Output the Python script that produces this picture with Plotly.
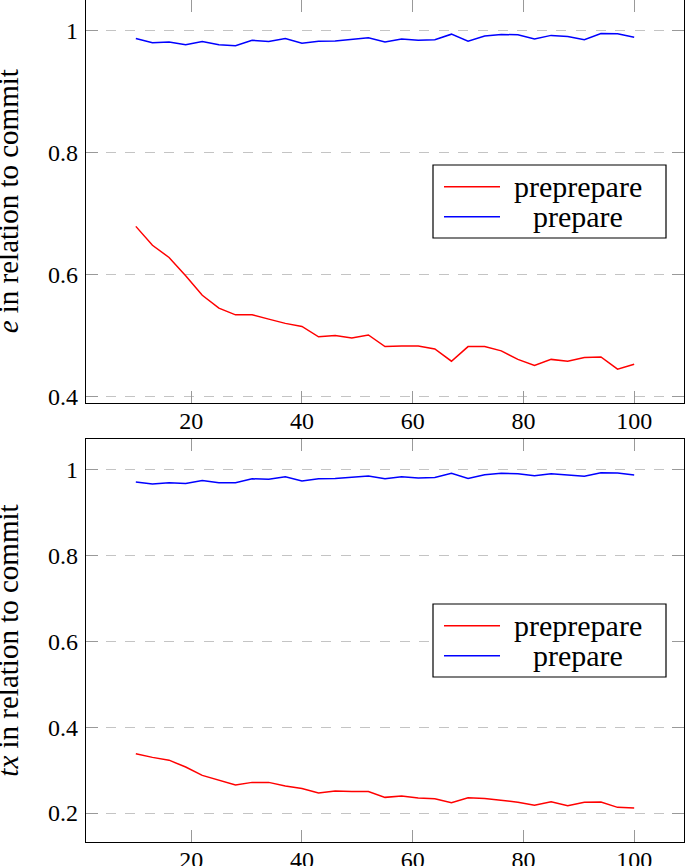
import plotly.graph_objects as go

x_vals = [10, 13, 16, 19, 22, 25, 28, 31, 34, 37, 40, 43, 46, 49, 52, 55,
          58, 61, 64, 67, 70, 73, 76, 79, 82, 85, 88, 91, 94, 97, 100]

e_preprepare = [0.679, 0.648, 0.628, 0.598, 0.566, 0.545, 0.534, 0.534, 0.527, 0.520,
                0.515, 0.498, 0.500, 0.496, 0.501, 0.482, 0.483, 0.483, 0.478, 0.458,
                0.482, 0.482, 0.475, 0.461, 0.451, 0.461, 0.458, 0.464, 0.465, 0.445, 0.453]
e_prepare = [0.987, 0.980, 0.981, 0.9765, 0.982, 0.9765, 0.975, 0.984, 0.982, 0.987,
             0.979, 0.9825, 0.983, 0.986, 0.988, 0.981, 0.986, 0.984, 0.985, 0.994,
             0.9825, 0.991, 0.9935, 0.993, 0.986, 0.992, 0.990, 0.985, 0.995, 0.9945, 0.989]

tx_preprepare = [0.338, 0.3295, 0.323, 0.307, 0.2876, 0.276, 0.265, 0.2713, 0.2713, 0.2628,
                 0.257, 0.2465, 0.251, 0.250, 0.250, 0.2364, 0.2395, 0.235, 0.2333, 0.224,
                 0.2357, 0.234, 0.2295, 0.225, 0.218, 0.2264, 0.217, 0.225, 0.2256, 0.2132, 0.2116]
tx_prepare = [0.9705, 0.966, 0.969, 0.967, 0.974, 0.969, 0.969, 0.978, 0.977, 0.983,
              0.973, 0.978, 0.979, 0.982, 0.9845, 0.978, 0.983, 0.980, 0.981, 0.991,
              0.979, 0.9876, 0.991, 0.990, 0.985, 0.990, 0.9876, 0.984, 0.992, 0.9915, 0.987]

x_ticks = [20, 40, 60, 80, 100]
y_ticks_top = [0.4, 0.6, 0.8, 1]
y_ticks_bottom = [0.2, 0.4, 0.6, 0.8, 1]
series_names = ["preprepare", "prepare"]
series_colors = ["#ff0000", "#0000ff"]
y_titles = ["<i>e</i> in relation to commit", "<i>tx</i> in relation to commit"]

FONT = "Liberation Serif, serif"

# ---- geometry (pixels) ----
W, H = 685, 866
ML, MR, MT, MB = 86, 1, 0, 24
PW = W - ML - MR
PH = H - MT - MB


def px_x(px):
    return (px - ML) / PW


def px_y(py):
    return 1 - (py - MT) / PH


top_dom = [px_y(402.7), 1.0]
bot_dom = [0.0, px_y(439.3)]

fig = go.Figure()
panels = [("x", "y", e_preprepare, e_prepare), ("x2", "y2", tx_preprepare, tx_prepare)]
for xa, ya, s_pre, s_prep in panels:
    for name, col, vals in zip(series_names, series_colors, [s_pre, s_prep]):
        fig.add_trace(go.Scatter(x=x_vals, y=vals, mode="lines", name=name,
                                 line=dict(color=col, width=1.5), xaxis=xa, yaxis=ya,
                                 showlegend=False))

common_x = dict(range=[1, 109], tickvals=x_ticks, ticks="inside", ticklen=12, tickcolor="#999999",
                tickwidth=1, showline=True, linecolor="black", linewidth=1.2, mirror="allticks",
                showgrid=False, zeroline=False, tickfont=dict(family=FONT, size=24, color="black"),
                ticklabelstandoff=-4, automargin=False)
common_y = dict(ticks="inside", ticklen=12, tickcolor="#999999", tickwidth=1,
                showline=True, linecolor="black", linewidth=1.2, mirror="allticks",
                showgrid=True, gridcolor="#c4c4c4", gridwidth=1.3, griddash="10px,9.6px",
                zeroline=False, tickfont=dict(family=FONT, size=24, color="black"),
                ticklabelstandoff=2, automargin=False)

fig.update_layout(
    width=W, height=H,
    margin=dict(l=ML, r=MR, t=MT, b=MB, autoexpand=False),
    paper_bgcolor="white", plot_bgcolor="white",
    xaxis=dict(common_x, domain=[0, 1], anchor="y"),
    yaxis=dict(common_y, domain=top_dom, anchor="x", range=[0.39, 1.05],
               tickvals=y_ticks_top, ticktext=["0.4", "0.6", "0.8", "1"]),
    xaxis2=dict(common_x, domain=[0, 1], anchor="y2"),
    yaxis2=dict(common_y, domain=bot_dom, anchor="x2", range=[0.1325, 1.07],
                tickvals=y_ticks_bottom, ticktext=["0.2", "0.4", "0.6", "0.8", "1"]),
    showlegend=False,
)

# y-axis titles
title_x = px_x(8)
for dom, t in zip([top_dom, bot_dom], y_titles):
    fig.add_annotation(text=t, xref="paper", yref="paper", x=title_x,
                       y=(dom[0] + dom[1]) / 2, textangle=-90, showarrow=False,
                       xanchor="center", yanchor="middle",
                       font=dict(family=FONT, size=29, color="black"))

# legends (box, line samples, centered labels) for each panel
legend_boxes = [(165, 238), (604, 677)]
box_x0, box_x1 = 433, 666
line_x0, line_x1 = 444, 500
text_cx = 578
for (by0, by1) in legend_boxes:
    fig.add_shape(type="rect", xref="paper", yref="paper",
                  x0=px_x(box_x0), x1=px_x(box_x1), y0=px_y(by0), y1=px_y(by1),
                  line=dict(color="black", width=1.2), fillcolor="white", layer="above")
    row_y = [by0 + 21.7, by0 + 51.7]
    for name, col, ry in zip(series_names, series_colors, row_y):
        fig.add_shape(type="line", xref="paper", yref="paper",
                      x0=px_x(line_x0), x1=px_x(line_x1), y0=px_y(ry), y1=px_y(ry),
                      line=dict(color=col, width=1.5), layer="above")
        fig.add_annotation(text=name, xref="paper", yref="paper", x=px_x(text_cx),
                           y=px_y(ry), xanchor="center", yanchor="middle", showarrow=False,
                           font=dict(family=FONT, size=30, color="black"))

fig.write_html("out.html", config={"displayModeBar": False},
               post_script="document.body.style.margin='0';document.body.style.overflow='hidden';")
